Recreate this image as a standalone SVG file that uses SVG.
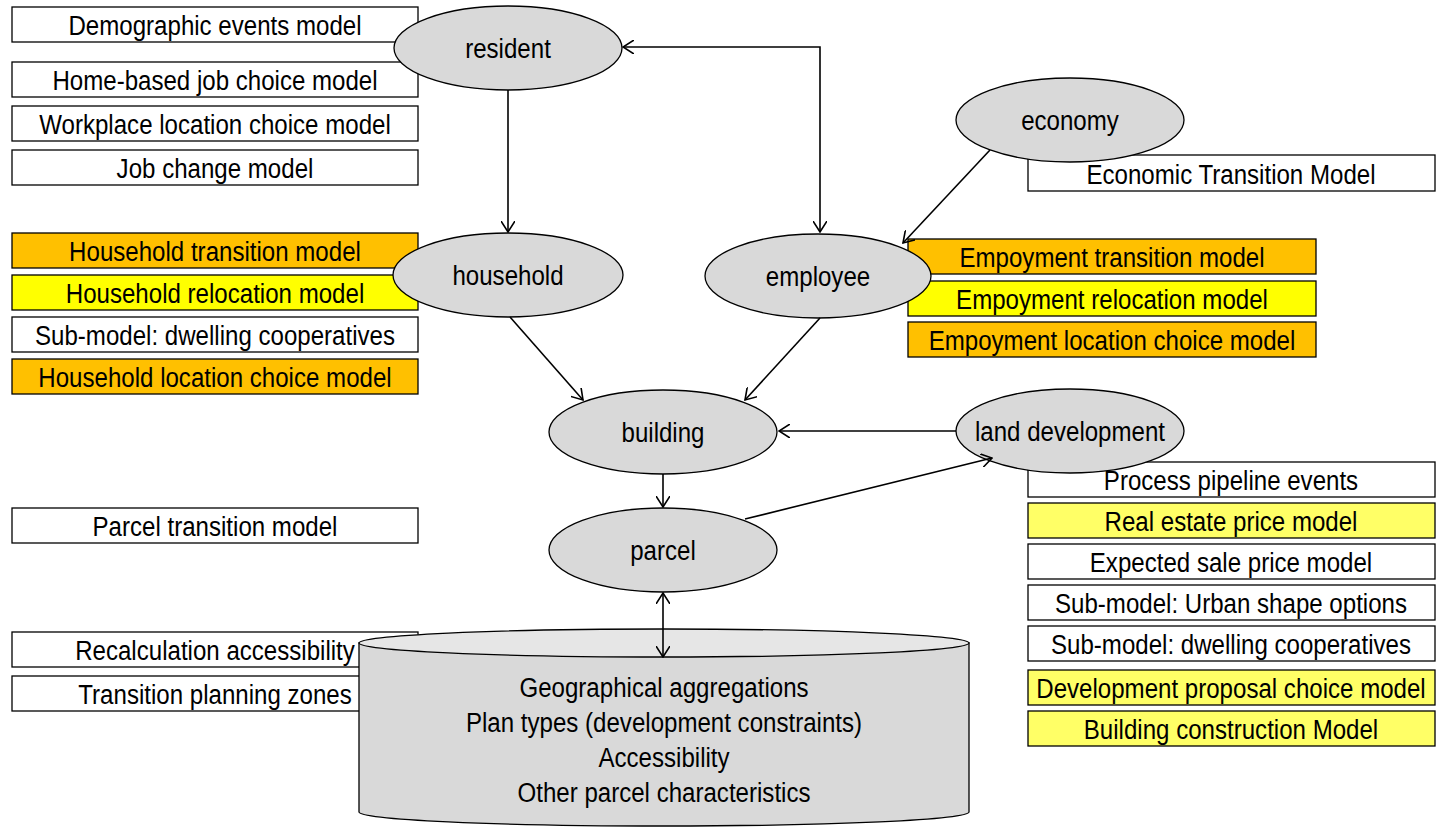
<svg xmlns="http://www.w3.org/2000/svg" width="1443" height="827" viewBox="0 0 1443 827">
<style>
text{font-family:"Liberation Sans Narrow","Liberation Sans",Arial,sans-serif;font-size:28px;fill:#000;text-anchor:middle}
.b{stroke:#000;stroke-width:1.3}
.w{fill:#fff}.o{fill:#FFC000}.y{fill:#FFFF00}.ly{fill:#FFFF66}
.n{fill:#D9D9D9;stroke:#000;stroke-width:1.3}
.c{stroke:#000;stroke-width:1.6;fill:none}
</style>
<defs>
<marker id="a" viewBox="0 0 12 14" refX="11" refY="7" markerWidth="12" markerHeight="14" markerUnits="userSpaceOnUse" orient="auto-start-reverse">
<path d="M0,0 L11,7 L0,14" fill="none" stroke="#000" stroke-width="1.6"/>
</marker>
</defs>
<g id="left-boxes">
<g id="b-demo"><rect class="b w" x="12" y="7" width="406" height="35"/><text transform="translate(215,35) scale(.86,1)">Demographic events model</text></g>
<g id="b-home"><rect class="b w" x="12" y="62" width="406" height="35"/><text transform="translate(215,90) scale(.86,1)">Home-based job choice model</text></g>
<g id="b-work"><rect class="b w" x="12" y="106" width="406" height="35"/><text transform="translate(215,134) scale(.86,1)">Workplace location choice model</text></g>
<g id="b-job"><rect class="b w" x="12" y="150" width="406" height="35"/><text transform="translate(215,178) scale(.86,1)">Job change model</text></g>
<g id="b-htrans"><rect class="b o" x="12" y="233" width="406" height="35"/><text transform="translate(215,261) scale(.86,1)">Household transition model</text></g>
<g id="b-hreloc"><rect class="b y" x="12" y="275" width="406" height="35"/><text transform="translate(215,303) scale(.86,1)">Household relocation model</text></g>
<g id="b-hsub"><rect class="b w" x="12" y="317" width="406" height="35"/><text transform="translate(215,345) scale(.86,1)">Sub-model: dwelling cooperatives</text></g>
<g id="b-hloc"><rect class="b o" x="12" y="359" width="406" height="35"/><text transform="translate(215,387) scale(.86,1)">Household location choice model</text></g>
<g id="b-parcel"><rect class="b w" x="12" y="508" width="406" height="35"/><text transform="translate(215,536) scale(.86,1)">Parcel transition model</text></g>
<g id="b-recalc"><rect class="b w" x="12" y="632" width="406" height="35"/><text transform="translate(215,660) scale(.86,1)">Recalculation accessibility</text></g>
<g id="b-tpz"><rect class="b w" x="12" y="676" width="406" height="35"/><text transform="translate(215,704) scale(.86,1)">Transition planning zones</text></g>
</g>
<g id="right-boxes">
<g id="b-econ"><rect class="b w" x="1028" y="155" width="407" height="36"/><text transform="translate(1231,184) scale(.86,1)">Economic Transition Model</text></g>
<g id="b-etrans"><rect class="b o" x="908" y="239" width="408" height="35"/><text transform="translate(1112,267) scale(.86,1)">Empoyment transition model</text></g>
<g id="b-ereloc"><rect class="b y" x="908" y="281" width="408" height="35"/><text transform="translate(1112,309) scale(.86,1)">Empoyment relocation model</text></g>
<g id="b-eloc"><rect class="b o" x="908" y="322" width="408" height="35"/><text transform="translate(1112,350) scale(.86,1)">Empoyment location choice model</text></g>
<g id="b-pipe"><rect class="b w" x="1028" y="462" width="407" height="35"/><text transform="translate(1231,490) scale(.86,1)">Process pipeline events</text></g>
<g id="b-real"><rect class="b ly" x="1028" y="503" width="407" height="35"/><text transform="translate(1231,531) scale(.86,1)">Real estate price model</text></g>
<g id="b-exp"><rect class="b w" x="1028" y="544" width="407" height="35"/><text transform="translate(1231,572) scale(.86,1)">Expected sale price model</text></g>
<g id="b-urban"><rect class="b w" x="1028" y="585" width="407" height="35"/><text transform="translate(1231,613) scale(.86,1)">Sub-model: Urban shape options</text></g>
<g id="b-dwell"><rect class="b w" x="1028" y="626" width="407" height="35"/><text transform="translate(1231,654) scale(.86,1)">Sub-model: dwelling cooperatives</text></g>
<g id="b-dev"><rect class="b ly" x="1028" y="670" width="407" height="35"/><text transform="translate(1231,698) scale(.86,1)">Development proposal choice model</text></g>
<g id="b-constr"><rect class="b ly" x="1028" y="711" width="407" height="35"/><text transform="translate(1231,739) scale(.86,1)">Building construction Model</text></g>
</g>
<g id="database">
<path class="n" d="M359,643 L359,812 A305,14 0 0 0 969,812 L969,643 Z"/>
<ellipse cx="664" cy="643" rx="305" ry="14" fill="#E6E6E6" stroke="#000" stroke-width="1.3"/>
<text transform="translate(664,697) scale(.86,1)">Geographical aggregations</text>
<text transform="translate(664,732) scale(.86,1)">Plan types (development constraints)</text>
<text transform="translate(664,767) scale(.86,1)">Accessibility</text>
<text transform="translate(664,802) scale(.86,1)">Other parcel characteristics</text>
</g>
<g id="resident"><ellipse class="n" cx="508" cy="48" rx="114" ry="42"/><text transform="translate(508,58) scale(.86,1)">resident</text></g>
<g id="household"><ellipse class="n" cx="508" cy="275" rx="115" ry="42"/><text transform="translate(508,285) scale(.86,1)">household</text></g>
<g id="employee"><ellipse class="n" cx="818" cy="276" rx="113" ry="42"/><text transform="translate(818,286) scale(.86,1)">employee</text></g>
<g id="economy"><ellipse class="n" cx="1070" cy="120" rx="114" ry="42"/><text transform="translate(1070,130) scale(.86,1)">economy</text></g>
<g id="building"><ellipse class="n" cx="663" cy="432" rx="114" ry="42"/><text transform="translate(663,442) scale(.86,1)">building</text></g>
<g id="land"><ellipse class="n" cx="1070" cy="431" rx="114" ry="42"/><text transform="translate(1070,441) scale(.86,1)">land development</text></g>
<g id="parcel"><ellipse class="n" cx="663" cy="550" rx="114" ry="42"/><text transform="translate(663,560) scale(.86,1)">parcel</text></g>
<g id="connectors">
<line class="c" x1="508" y1="90" x2="508" y2="232" marker-end="url(#a)"/>
<polyline class="c" points="820,232 820,47 623,47" marker-start="url(#a)" marker-end="url(#a)"/>
<line class="c" x1="990" y1="150" x2="903" y2="243" marker-end="url(#a)"/>
<line class="c" x1="510" y1="317" x2="583" y2="400" marker-end="url(#a)"/>
<line class="c" x1="820" y1="318" x2="745" y2="400" marker-end="url(#a)"/>
<line class="c" x1="956" y1="431" x2="779" y2="431" marker-end="url(#a)"/>
<line class="c" x1="663" y1="474" x2="663" y2="507" marker-end="url(#a)"/>
<line class="c" x1="745" y1="519" x2="992" y2="458" marker-end="url(#a)"/>
<line class="c" x1="663" y1="593" x2="663" y2="657" marker-start="url(#a)" marker-end="url(#a)"/>
</g>
</svg>
